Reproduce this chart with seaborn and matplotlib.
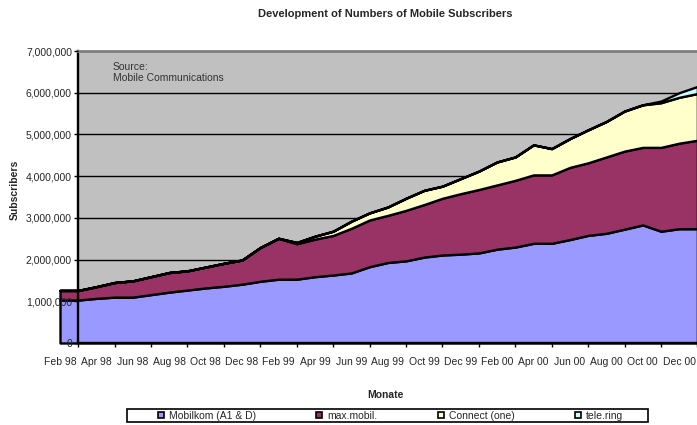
import matplotlib
matplotlib.use("Agg")
import matplotlib.pyplot as plt
from matplotlib.lines import Line2D
from matplotlib.patches import Rectangle
import pandas as pd
import seaborn as sns

# Monthly subscriber counts (thousands), Feb 1998 - Jan 2001
months = ["Feb 98", "Mar 98", "Apr 98", "May 98", "Jun 98", "Jul 98", "Aug 98",
          "Sep 98", "Oct 98", "Nov 98", "Dec 98",
          "Jan 99", "Feb 99", "Mar 99", "Apr 99", "May 99", "Jun 99", "Jul 99",
          "Aug 99", "Sep 99", "Oct 99", "Nov 99", "Dec 99",
          "Jan 00", "Feb 00", "Mar 00", "Apr 00", "May 00", "Jun 00", "Jul 00",
          "Aug 00", "Sep 00", "Oct 00", "Nov 00", "Dec 00",
          "Jan 01"]
mobilkom = [1030, 1030, 1070, 1100, 1100, 1160, 1220, 1270, 1320, 1360, 1410,
            1480, 1530, 1530, 1590, 1630, 1680, 1830, 1930, 1970, 2060, 2110, 2130,
            2160, 2250, 2300, 2390, 2390, 2480, 2580, 2630, 2730, 2830, 2680, 2740,
            2740]
max_mobil = [230, 230, 280, 350, 390, 430, 470, 460, 500, 550, 580,
             810, 980, 850, 900, 950, 1070, 1120, 1130, 1210, 1260, 1360, 1450,
             1520, 1540, 1600, 1640, 1640, 1730, 1740, 1830, 1870, 1860, 2010, 2050,
             2120]
connect = [0, 0, 0, 0, 0, 0, 0, 0, 0, 0, 0,
           0, 0, 30, 70, 100, 170, 170, 200, 290, 340, 290, 360,
           440, 550, 560, 720, 630, 690, 790, 850, 960, 1020, 1070, 1100,
           1120]
tele_ring = [0, 0, 0, 0, 0, 0, 0, 0, 0, 0, 0,
             0, 0, 0, 0, 0, 0, 0, 0, 0, 0, 0, 0,
             0, 0, 0, 0, 0, 0, 0, 0, 0, 0, 40, 110,
             170]

series_names = ["Mobilkom (A1 & D)", "max.mobil.", "Connect (one)", "tele.ring"]
series_colors = ["#9999FF", "#993366", "#FFFFCC", "#CCFFFF"]
y_ticks = [0, 1_000_000, 2_000_000, 3_000_000, 4_000_000, 5_000_000, 6_000_000, 7_000_000]

df = pd.DataFrame({
    "month": months,
    series_names[0]: mobilkom,
    series_names[1]: max_mobil,
    series_names[2]: connect,
    series_names[3]: tele_ring,
})
df[series_names] = df[series_names] * 1000
df["pos"] = range(len(df))

sns.set_theme(style="white")
plt.rcParams["font.family"] = ["Liberation Sans", "DejaVu Sans"]

fig = plt.figure(figsize=(6.97, 4.25), dpi=100)
ax = fig.add_axes([60 / 697, 82 / 425, 637.4 / 697, 292 / 425])

last = df["pos"].iloc[-1]
first_axis = df["pos"].iloc[1]

# grey plot wall and horizontal gridlines start at the value axis
ax.axvspan(first_axis, last, color="#C0C0C0", lw=0, zorder=0)
ax.hlines(y_ticks[1:-1], first_axis, last, colors="black", lw=1.0, zorder=1)

polys = ax.stackplot(df["pos"], *[df[n] for n in series_names],
                     colors=series_colors, edgecolor="black", linewidth=1.7, zorder=2)
for p in polys:
    p.set_clip_on(False)

ax.set_xlim(0, last)
ax.set_ylim(0, y_ticks[-1])

# spines
ax.spines["left"].set_position(("data", first_axis))
ax.spines["left"].set_bounds(0, y_ticks[-1])
ax.spines["left"].set_linewidth(1.7)
ax.spines["left"].set_color("black")
ax.spines["bottom"].set_bounds(first_axis, last)
ax.spines["bottom"].set_linewidth(1.7)
ax.spines["bottom"].set_color("black")
ax.spines["top"].set_bounds(first_axis, last)
ax.spines["top"].set_linewidth(2.0)
ax.spines["top"].set_color("#808080")
ax.spines["right"].set_visible(False)
for s in ax.spines.values():
    s.set_zorder(3)
ax.yaxis.set_zorder(4)
ax.xaxis.set_zorder(4)

# y axis
ax.set_yticks(y_ticks)
ax.set_yticklabels([f"{v:,}" for v in y_ticks])
ax.tick_params(axis="y", which="major", length=3, width=1, color="black",
               pad=1.5, labelsize=7.5, left=True, direction="out")

# x axis: tick marks between labelled months
ax.set_xticks(list(range(1, len(months), 2)))
ax.set_xticklabels([])
ax.set_xticks(list(range(0, len(months) - 1, 2)), minor=True)
ax.set_xticklabels(months[0:len(months) - 1:2], minor=True)
ax.tick_params(axis="x", which="major", length=3, width=1, color="black",
               bottom=True, direction="out")
ax.tick_params(axis="x", which="minor", length=0, pad=10, labelsize=7.5, bottom=True)

ax.set_xlabel("")
ax.set_ylabel("")
ax.grid(False)

# annotations
fig.text(385 / 697, 1 - 14 / 425, "Development of Numbers of Mobile Subscribers",
         ha="center", va="center", fontsize=8, fontweight="bold")
fig.text(385 / 697, 1 - 395 / 425, "Monate", ha="center", va="center",
         fontsize=7.5, fontweight="bold")
fig.text(15 / 697, 1 - 190 / 425, "Subscribers", ha="center", va="center",
         rotation=90, fontsize=7.5, fontweight="bold")
fig.text(113 / 697, 1 - 62 / 425, "Source:\nMobile Communications", ha="left", va="top",
         fontsize=7.5, linespacing=1.15, color="#333333")

# legend
handles = [Line2D([], [], marker="s", ls="none", markersize=4.5,
                  markerfacecolor=c, markeredgecolor="black", markeredgewidth=1.2)
           for c in series_colors]
fig.legend(handles, series_names, ncol=4, loc="center",
           bbox_to_anchor=(390 / 697, 1 - 416 / 425), frameon=False, fontsize=7.5,
           handlelength=0.7, handletextpad=0.4, columnspacing=5.75, borderpad=0.1)
fig.add_artist(Rectangle((127 / 697, 1 - 422 / 425), 521 / 697, 13 / 425,
                         transform=fig.transFigure, fill=False, ec="black", lw=1.2))

fig.savefig("out.png", dpi=100)
